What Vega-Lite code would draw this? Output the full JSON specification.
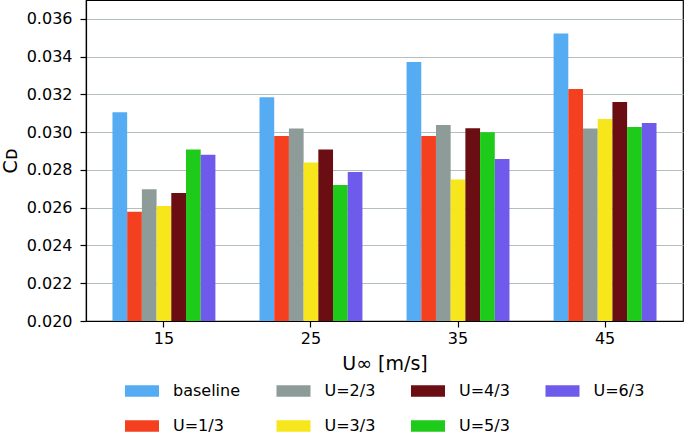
{
  "$schema": "https://vega.github.io/schema/vega-lite/v6.json",
  "autosize": {"type": "none"},
  "padding": {"left": 86, "top": 0, "right": 2, "bottom": 111},
  "width": 597,
  "height": 321,
  "data": {
    "values": [
      {"speed": 15, "case": "baseline", "cd": 0.03106},
      {"speed": 15, "case": "U=1/3", "cd": 0.02578},
      {"speed": 15, "case": "U=2/3", "cd": 0.02698},
      {"speed": 15, "case": "U=3/3", "cd": 0.02609},
      {"speed": 15, "case": "U=4/3", "cd": 0.02678},
      {"speed": 15, "case": "U=5/3", "cd": 0.02908},
      {"speed": 15, "case": "U=6/3", "cd": 0.02880},
      {"speed": 25, "case": "baseline", "cd": 0.03185},
      {"speed": 25, "case": "U=1/3", "cd": 0.02980},
      {"speed": 25, "case": "U=2/3", "cd": 0.03019},
      {"speed": 25, "case": "U=3/3", "cd": 0.02839},
      {"speed": 25, "case": "U=4/3", "cd": 0.02908},
      {"speed": 25, "case": "U=5/3", "cd": 0.02720},
      {"speed": 25, "case": "U=6/3", "cd": 0.02789},
      {"speed": 35, "case": "baseline", "cd": 0.03371},
      {"speed": 35, "case": "U=1/3", "cd": 0.02980},
      {"speed": 35, "case": "U=2/3", "cd": 0.03038},
      {"speed": 35, "case": "U=3/3", "cd": 0.02749},
      {"speed": 35, "case": "U=4/3", "cd": 0.03021},
      {"speed": 35, "case": "U=5/3", "cd": 0.03000},
      {"speed": 35, "case": "U=6/3", "cd": 0.02858},
      {"speed": 45, "case": "baseline", "cd": 0.03522},
      {"speed": 45, "case": "U=1/3", "cd": 0.03229},
      {"speed": 45, "case": "U=2/3", "cd": 0.03019},
      {"speed": 45, "case": "U=3/3", "cd": 0.03070},
      {"speed": 45, "case": "U=4/3", "cd": 0.03160},
      {"speed": 45, "case": "U=5/3", "cd": 0.03028},
      {"speed": 45, "case": "U=6/3", "cd": 0.03049}
    ]
  },
  "mark": {"type": "bar", "clip": true},
  "encoding": {
    "x": {
      "field": "speed",
      "type": "ordinal",
      "scale": {"paddingInner": 0.3, "paddingOuter": 0.18},
      "axis": {
        "title": "U∞ [m/s]",
        "labelAngle": 0,
        "labelPadding": 3,
        "titlePadding": 8,
        "grid": false
      }
    },
    "xOffset": {
      "field": "case",
      "scale": {"domain": ["baseline", "U=1/3", "U=2/3", "U=3/3", "U=4/3", "U=5/3", "U=6/3"]}
    },
    "y": {
      "field": "cd",
      "type": "quantitative",
      "scale": {"domain": [0.02, 0.037], "nice": false, "zero": false},
      "axis": {
        "title": "Cᴅ",
        "values": [0.02, 0.022, 0.024, 0.026, 0.028, 0.03, 0.032, 0.034, 0.036],
        "format": ".3f",
        "labelPadding": 8,
        "titlePadding": 6,
        "grid": true
      }
    },
    "color": {
      "field": "case",
      "type": "nominal",
      "scale": {
        "domain": ["baseline", "U=1/3", "U=2/3", "U=3/3", "U=4/3", "U=5/3", "U=6/3"],
        "range": ["#55acf3", "#f5401f", "#8d9c98", "#f7e61b", "#6a0e13", "#1ecb1a", "#6f5beb"]
      },
      "legend": {
        "title": null,
        "orient": "none",
        "legendX": 39,
        "legendY": 374,
        "columns": 4,
        "columnPadding": 35.5,
        "rowPadding": 10,
        "symbolType": "M-1,-0.34H1V0.34H-1Z",
        "symbolSize": 1156,
        "symbolStrokeWidth": 0,
        "labelOffset": 14,
        "labelFontSize": 16,
        "labelColor": "black"
      }
    }
  },
  "config": {
    "font": "DejaVu Sans",
    "view": {"stroke": "black", "strokeWidth": 1.2},
    "axis": {
      "domainColor": "black",
      "domainWidth": 1.2,
      "tickColor": "black",
      "tickSize": 6,
      "tickWidth": 1.2,
      "labelFontSize": 16,
      "labelColor": "black",
      "labelFont": "DejaVu Sans",
      "titleFont": "DejaVu Sans",
      "titleFontSize": 19,
      "titleFontWeight": "normal",
      "titleColor": "black",
      "gridColor": "#b3bfbf",
      "gridWidth": 1.2
    },
    "legend": {"labelFont": "DejaVu Sans"}
  }
}
